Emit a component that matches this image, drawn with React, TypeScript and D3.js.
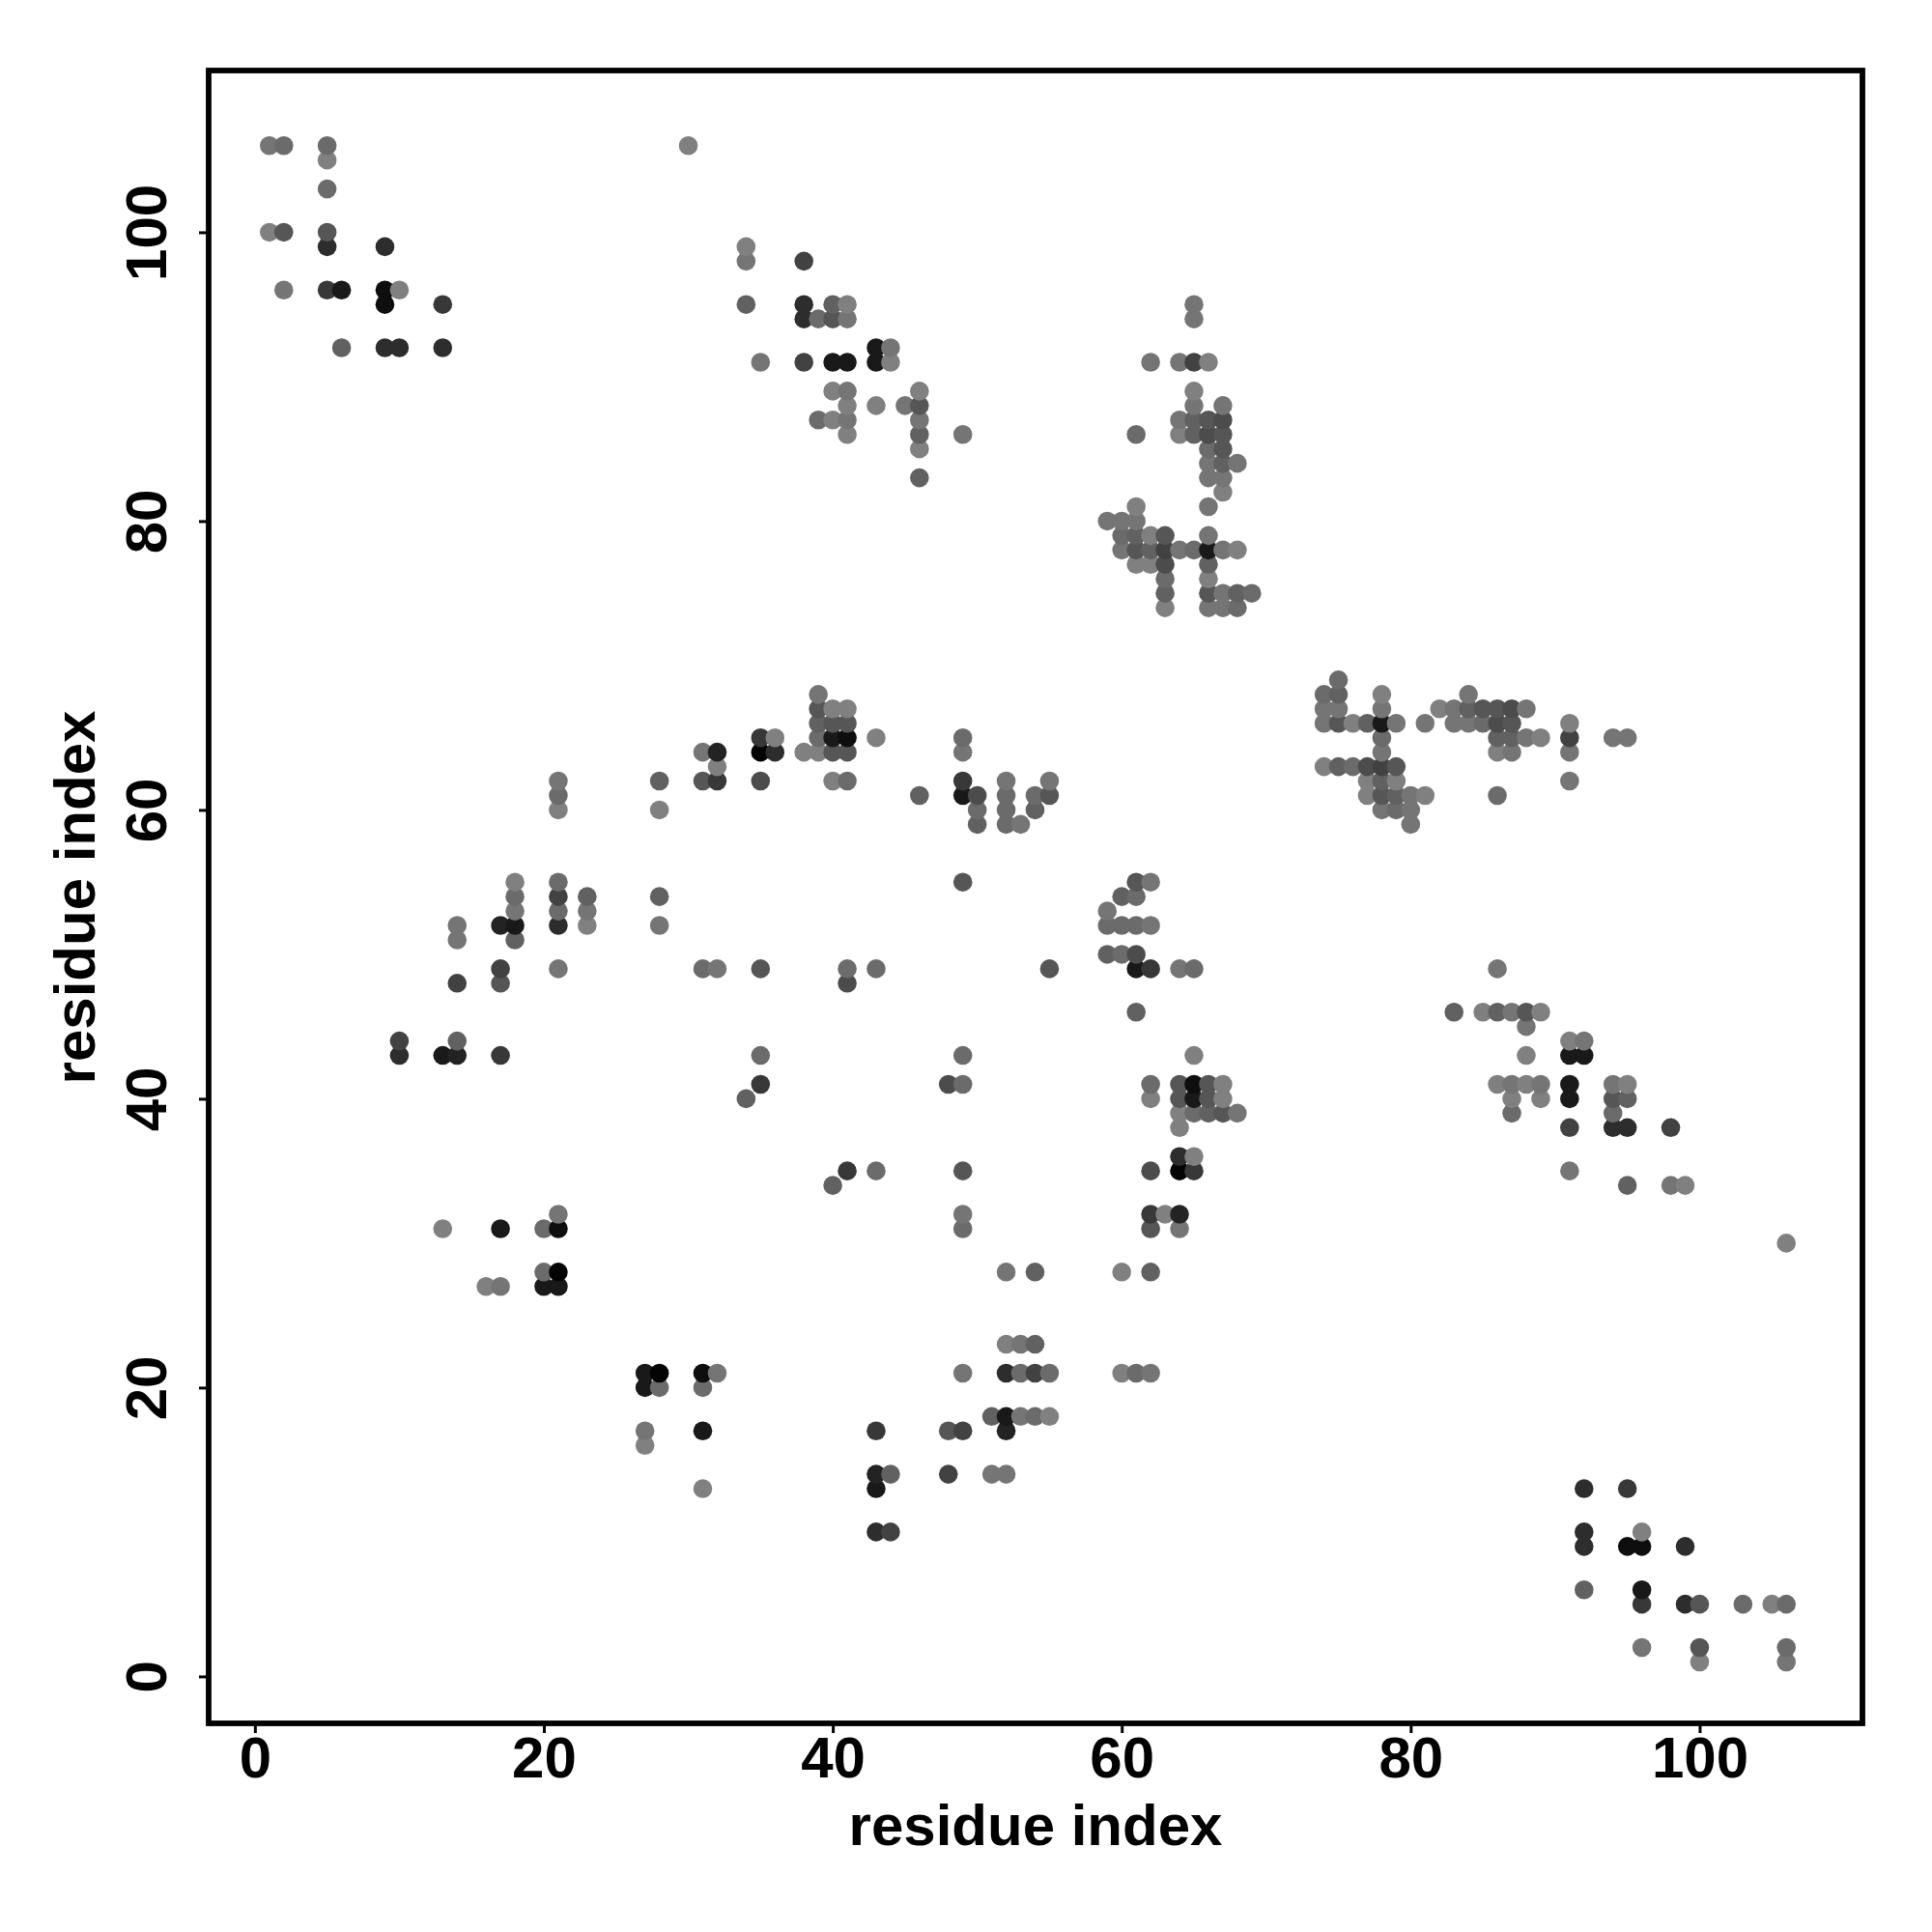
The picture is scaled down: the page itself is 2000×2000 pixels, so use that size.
import React, { useEffect, useRef } from 'react';
import * as d3 from 'd3';

// contact map is symmetric, only pairs with a < b are listed: [a, b, darkness]
type Contact = [number, number, number];

const termini: Contact[] = [
    [1, 106, 2], [2, 106, 3], [5, 106, 3], [30, 106, 1], [5, 105, 1], [5, 103, 3],
    [1, 100, 1], [2, 100, 5], [5, 100, 5], [5, 99, 9], [9, 99, 9],
    [2, 96, 2], [5, 96, 8], [6, 96, 11], [9, 96, 12], [10, 96, 1],
    [9, 95, 12], [13, 95, 8], [6, 92, 4], [9, 92, 9], [10, 92, 9], [13, 92, 9],
];

const strandPairs: Contact[] = [
    [34, 99, 1], [34, 98, 2], [38, 98, 7], [34, 95, 4], [38, 95, 9], [40, 95, 4], [41, 95, 1],
    [38, 94, 9], [39, 94, 3], [40, 94, 5], [41, 94, 2], [43, 92, 11], [44, 92, 2],
    [35, 91, 2], [38, 91, 7], [40, 91, 11], [41, 91, 11], [43, 91, 11], [44, 91, 1],
    [40, 89, 1], [41, 89, 2], [46, 89, 1], [41, 88, 1], [43, 88, 1], [45, 88, 2], [46, 88, 5],
    [39, 87, 3], [40, 87, 1], [41, 87, 2], [46, 87, 2], [41, 86, 1], [46, 86, 4], [49, 86, 2],
    [46, 85, 1], [46, 83, 4],
];

const helixBlock: Contact[] = [
    [65, 95, 2], [65, 94, 2], [62, 91, 2], [64, 91, 2], [65, 91, 7], [66, 91, 1], [65, 89, 1],
    [65, 88, 2], [67, 88, 2], [64, 87, 2], [65, 87, 4], [66, 87, 5], [67, 87, 6],
    [61, 86, 3], [64, 86, 1], [65, 86, 4], [66, 86, 6], [67, 86, 5], [66, 85, 3], [67, 85, 5],
    [66, 84, 2], [67, 84, 4], [68, 84, 2], [66, 83, 2], [67, 83, 2], [67, 82, 1],
    [61, 81, 1], [66, 81, 2], [59, 80, 2], [60, 80, 2], [61, 80, 2],
    [60, 79, 3], [61, 79, 4], [62, 79, 1], [63, 79, 5], [66, 79, 2],
    [60, 78, 2], [61, 78, 5], [62, 78, 4], [63, 78, 7], [64, 78, 2], [65, 78, 3], [66, 78, 11], [67, 78, 2], [68, 78, 1],
    [61, 77, 1], [62, 77, 1], [63, 77, 6], [66, 77, 4], [63, 76, 3], [66, 76, 1],
    [63, 75, 4], [66, 75, 5], [67, 75, 2], [68, 75, 4], [69, 75, 3],
    [63, 74, 1], [66, 74, 2], [67, 74, 2], [68, 74, 3],
];

const middleBlock: Contact[] = [
    [39, 68, 2], [39, 67, 5], [40, 67, 1], [41, 67, 1], [39, 66, 4], [40, 66, 5], [41, 66, 5],
    [35, 65, 8], [36, 65, 1], [39, 65, 3], [40, 65, 11], [41, 65, 12], [43, 65, 1], [49, 65, 3],
    [31, 64, 2], [32, 64, 10], [35, 64, 13], [36, 64, 9], [38, 64, 1], [39, 64, 1], [40, 64, 5], [41, 64, 5], [49, 64, 2],
    [32, 63, 1], [21, 62, 2], [28, 62, 4], [31, 62, 5], [32, 62, 8], [35, 62, 6], [40, 62, 1], [41, 62, 3], [49, 62, 8], [52, 62, 2], [55, 62, 2],
    [21, 61, 3], [46, 61, 4], [49, 61, 11], [50, 61, 6], [52, 61, 3], [54, 61, 3], [55, 61, 5],
    [21, 60, 1], [28, 60, 1], [50, 60, 3], [52, 60, 3], [54, 60, 4], [50, 59, 4], [52, 59, 3], [53, 59, 2],
];

const lowerBlock: Contact[] = [
    [18, 55, 1], [21, 55, 3], [49, 55, 5], [18, 54, 3], [21, 54, 7], [23, 54, 4], [28, 54, 4],
    [18, 53, 2], [21, 53, 3], [23, 53, 2], [14, 52, 2], [17, 52, 10], [18, 52, 11], [21, 52, 9], [23, 52, 1], [28, 52, 2],
    [14, 51, 2], [18, 51, 4], [17, 49, 7], [21, 49, 2], [31, 49, 3], [32, 49, 2], [35, 49, 5], [41, 49, 3], [43, 49, 3],
    [14, 48, 7], [17, 48, 5], [41, 48, 6], [10, 44, 7], [14, 44, 4],
    [10, 43, 9], [13, 43, 11], [14, 43, 10], [17, 43, 8], [35, 43, 3], [35, 41, 8], [34, 40, 4],
    [21, 32, 2], [13, 31, 1], [17, 31, 11], [20, 31, 3], [21, 31, 12],
    [20, 28, 3], [21, 28, 13], [16, 27, 1], [17, 27, 2], [20, 27, 11], [21, 27, 11],
];

const xTicks = [0, 20, 40, 60, 80, 100];
const yTicks = [0, 20, 40, 60, 80, 100];
const axisLabel = 'residue index';

const contacts = [...termini, ...strandPairs, ...helixBlock, ...middleBlock, ...lowerBlock]
    .flatMap(([a, b, d]) => [{ x: a, y: b, d }, { x: b, y: a, d }])
    .sort((p, q) => p.x - q.x || p.y - q.y);

const App: React.FC = () => {
    const ref = useRef<SVGSVGElement>(null);

    const margin = { top: 73, right: 72, bottom: 216, left: 216 };
    const size = 2000;
    const font = '"Liberation Sans", Arial, sans-serif';

    useEffect(() => {
        const svg = d3.select(ref.current);
        svg.selectAll('*').remove();

        const xScale = d3.scaleLinear().domain([-3.2, 111.27]).range([margin.left, size - margin.right]);
        const yScale = d3.scaleLinear().domain([-3.25, 111.2]).range([size - margin.bottom, margin.top]);
        const grey = d3.scaleLinear<string>().domain([0, 13]).range(['#8a8a8a', '#040404']);

        svg.append('g')
            .selectAll('circle')
            .data(contacts)
            .enter()
            .append('circle')
            .attr('cx', d => xScale(d.x))
            .attr('cy', d => yScale(d.y))
            .attr('r', 9.8)
            .attr('fill', d => grey(d.d));

        const xAxis = svg.append('g')
            .attr('transform', `translate(0,${size - margin.bottom})`)
            .call(d3.axisBottom(xScale).tickValues(xTicks).tickSize(10).tickPadding(3).tickFormat(d3.format('d')));
        const yAxis = svg.append('g')
            .attr('transform', `translate(${margin.left},0)`)
            .call(d3.axisLeft(yScale).tickValues(yTicks).tickSize(10).tickFormat(d3.format('d')));

        [xAxis, yAxis].forEach(axis => {
            axis.select('.domain').remove();
            axis.selectAll('line').attr('stroke', '#000').attr('stroke-width', 3);
            axis.selectAll('text')
                .attr('fill', '#000')
                .style('font-family', font)
                .style('font-weight', 'bold')
                .style('font-size', '60px');
        });

        // R style: y tick labels run along the axis
        yAxis.selectAll('text')
            .attr('text-anchor', 'middle')
            .attr('x', 0)
            .attr('y', 0)
            .attr('dy', 0)
            .attr('transform', 'translate(-44,0) rotate(-90)');

        svg.append('rect')
            .attr('x', margin.left)
            .attr('y', margin.top)
            .attr('width', size - margin.left - margin.right)
            .attr('height', size - margin.top - margin.bottom)
            .attr('fill', 'none')
            .attr('stroke', '#000')
            .attr('stroke-width', 5.8);

        svg.append('text')
            .attr('x', 1072)
            .attr('y', 1910)
            .attr('text-anchor', 'middle')
            .style('font-family', font)
            .style('font-weight', 'bold')
            .style('font-size', '60px')
            .text(axisLabel);

        svg.append('text')
            .attr('transform', 'translate(98,929) rotate(-90)')
            .attr('text-anchor', 'middle')
            .style('font-family', font)
            .style('font-weight', 'bold')
            .style('font-size', '60px')
            .text(axisLabel);
        //eslint-disable-next-line
    }, []);

    return (
        <svg
            ref={ref}
            width={size}
            height={size}
            style={{ position: 'absolute', left: 0, top: 0, background: '#fff' }}
        />
    );
};

export default App;
